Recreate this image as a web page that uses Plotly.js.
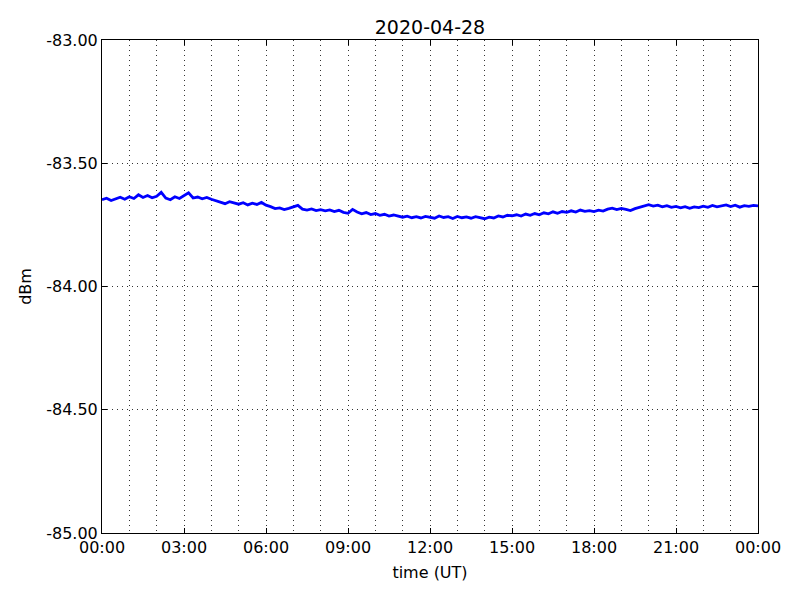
<!DOCTYPE html>
<html>
<head>
<meta charset="utf-8">
<script src="https://cdn.plot.ly/plotly-3.0.1.min.js"></script>
<style>html,body{margin:0;padding:0;background:#fff;}#chart{width:800px;height:600px;}</style>
</head>
<body>
<div id="chart"></div>
<script>
// Signal level, 10-minute samples, 2020-04-28 00:00 UT to 2020-04-29 00:00 UT
const startTime = "2020-04-28T00:00:00Z";
const sampleMinutes = 10;
const dbm = [
  -83.648, -83.642, -83.651, -83.644, -83.638, -83.646,
  -83.636, -83.643, -83.628, -83.639, -83.631, -83.640,
  -83.634, -83.618, -83.641, -83.648, -83.636, -83.643,
  -83.630, -83.620, -83.641, -83.637, -83.644, -83.639,
  -83.646, -83.652, -83.659, -83.664, -83.656, -83.662,
  -83.666, -83.660, -83.669, -83.662, -83.667, -83.659,
  -83.670, -83.676, -83.684, -83.681, -83.688, -83.683,
  -83.676, -83.671, -83.686, -83.690, -83.685, -83.692,
  -83.688, -83.693, -83.689, -83.696, -83.691, -83.699,
  -83.703, -83.687, -83.698, -83.705, -83.700, -83.708,
  -83.704, -83.711, -83.707, -83.714, -83.710, -83.716,
  -83.719, -83.715, -83.721, -83.717, -83.722, -83.716,
  -83.718, -83.723, -83.714, -83.720, -83.717, -83.724,
  -83.716, -83.721, -83.718, -83.723, -83.717, -83.722,
  -83.725, -83.719, -83.722, -83.714, -83.718, -83.711,
  -83.713, -83.709, -83.714, -83.706, -83.711, -83.704,
  -83.709, -83.701, -83.705, -83.697, -83.703, -83.696,
  -83.699, -83.693, -83.698, -83.690, -83.695, -83.692,
  -83.696, -83.690, -83.694, -83.686, -83.682, -83.688,
  -83.683, -83.687, -83.692, -83.684, -83.679, -83.674,
  -83.668, -83.674, -83.670, -83.677, -83.672, -83.679,
  -83.675, -83.681, -83.676, -83.683, -83.677, -83.680,
  -83.674, -83.679, -83.671, -83.677, -83.673, -83.669,
  -83.676, -83.670, -83.678, -83.672, -83.675, -83.671,
  -83.673
];
const xTickVals = ["2020-04-28 00:00","2020-04-28 03:00","2020-04-28 06:00","2020-04-28 09:00","2020-04-28 12:00","2020-04-28 15:00","2020-04-28 18:00","2020-04-28 21:00","2020-04-29 00:00"];
const xTickText = ["00:00","03:00","06:00","09:00","12:00","15:00","18:00","21:00","00:00"];
const yTickVals = [-85, -84.5, -84, -83.5, -83];
const yTickText = ["-85.00","-84.50","-84.00","-83.50","-83.00"];

const t0 = Date.parse(startTime);
function fmt(ms){
  const d = new Date(ms);
  const p = n => String(n).padStart(2,'0');
  return d.getUTCFullYear()+'-'+p(d.getUTCMonth()+1)+'-'+p(d.getUTCDate())+' '+p(d.getUTCHours())+':'+p(d.getUTCMinutes());
}
const times = dbm.map((_, i) => fmt(t0 + i*sampleMinutes*60000));

const font = {family: 'DejaVu Sans, sans-serif', size: 16, color: '#000'};
const gridStyle = {gridcolor: '#333', gridwidth: 1, griddash: '1px,4px'};
const axisCommon = Object.assign({
  showline: true, linecolor: '#000', linewidth: 1, mirror: 'allticks',
  ticks: 'inside', ticklen: 5, tickcolor: '#000', tickwidth: 1,
  showgrid: true, zeroline: false, tickfont: font
}, gridStyle);

const layout = {
  width: 800, height: 600,
  margin: {l: 102, r: 42, t: 40, b: 67},
  paper_bgcolor: '#fff', plot_bgcolor: '#fff',
  showlegend: false,
  title: {text: '2020-04-28', font: {family: 'DejaVu Sans, sans-serif', size: 19, color: '#000'}, x: 0.5375, xanchor: 'center', y: 0.955, yanchor: 'middle', yref: 'container'},
  xaxis: Object.assign({}, axisCommon, {
    type: 'date',
    range: ['2020-04-28 00:00', '2020-04-29 00:00'],
    tickmode: 'array', tickvals: xTickVals, ticktext: xTickText,
    minor: Object.assign({dtick: 3600000, tick0: '2020-04-28 00:00', showgrid: true, ticks: ''}, gridStyle),
    title: {text: 'time (UT)', font: font, standoff: 10}
  }),
  yaxis: Object.assign({}, axisCommon, {
    range: [-85, -83],
    tickmode: 'array', tickvals: yTickVals, ticktext: yTickText,
    title: {text: 'dBm', font: font, standoff: 10}
  })
};

Plotly.newPlot('chart', [{
  x: times, y: dbm, type: 'scatter', mode: 'lines',
  line: {color: '#0000ff', width: 2.8}
}], layout, {staticPlot: true});
</script>
</body>
</html>
